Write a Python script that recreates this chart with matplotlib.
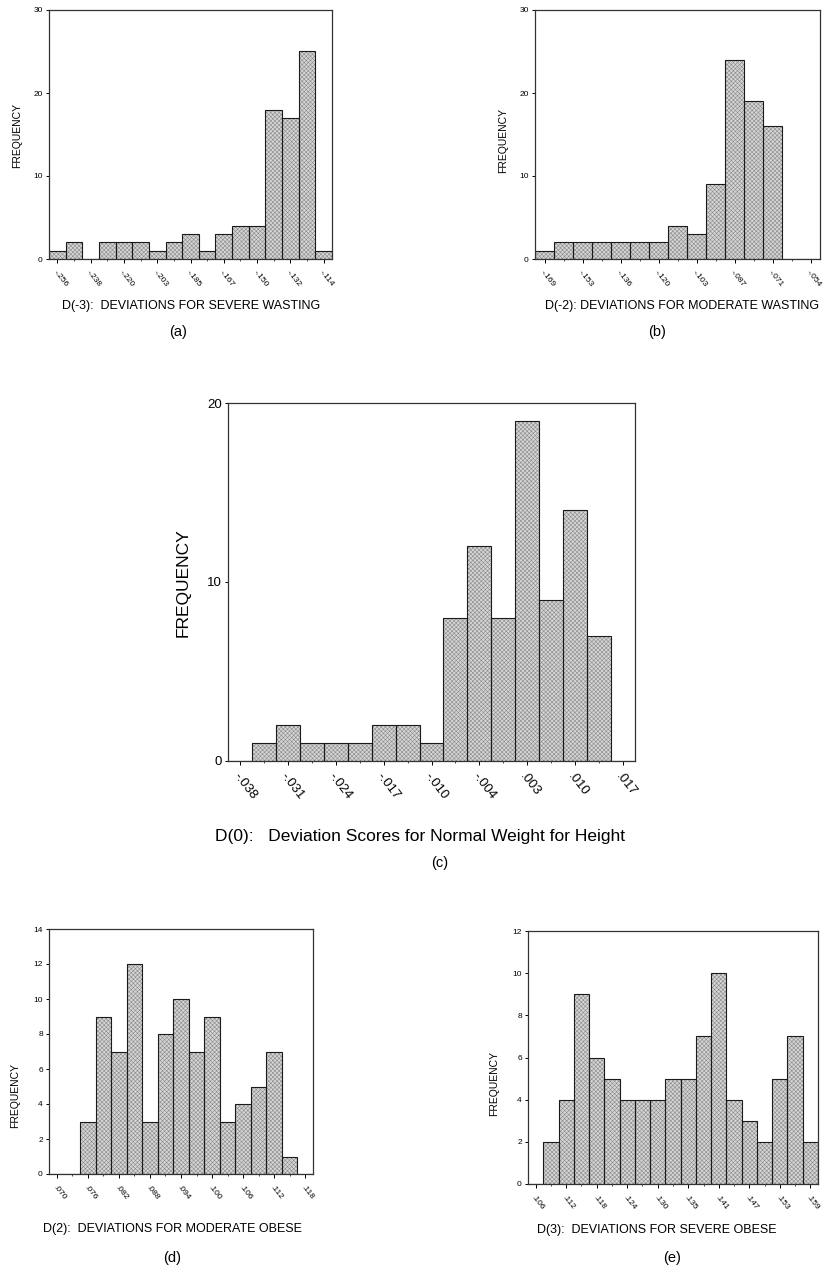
import matplotlib.pyplot as plt
import numpy as np

plt.rcParams['font.family'] = ['Liberation Sans', 'DejaVu Sans']
plt.rcParams['hatch.linewidth'] = 0.4

# (a) D(-3): severe wasting
counts_a = [1, 2, 0, 2, 2, 2, 1, 2, 3, 1, 3, 4, 4, 18, 17, 25, 1]
ticks_a = ['-.256', '-.238', '-.220', '-.203', '-.185', '-.167', '-.150', '-.132', '-.114']

# (b) D(-2): moderate wasting
counts_b = [1, 2, 2, 2, 2, 2, 2, 4, 3, 9, 24, 19, 16, 0, 0]
ticks_b = ['-.169', '-.153', '-.136', '-.120', '-.103', '-.087', '-.071', '-.054']

# (c) D(0): normal weight for height
counts_c = [0, 1, 2, 1, 1, 1, 2, 2, 1, 8, 12, 8, 19, 9, 14, 7, 0]
ticks_c = ['-.038', '-.031', '-.024', '-.017', '-.010', '-.004', '.003', '.010', '.017']

# (d) D(2): moderate obese
counts_d = [0, 0, 3, 9, 7, 12, 3, 8, 10, 7, 9, 3, 4, 5, 7, 1, 0]
ticks_d = ['.070', '.076', '.082', '.088', '.094', '.100', '.106', '.112', '.118']

# (e) D(3): severe obese
counts_e = [0, 2, 4, 9, 6, 5, 4, 4, 4, 5, 5, 7, 10, 4, 3, 2, 5, 7, 2]
ticks_e = ['.106', '.112', '.118', '.124', '.130', '.135', '.141', '.147', '.153', '.159']

W, H = 830, 1275
fig = plt.figure(figsize=(W / 100, H / 100), dpi=100)


def rect(x0, y0, x1, y1):
    return [x0 / W, 1 - y1 / H, (x1 - x0) / W, (y1 - y0) / H]


def ftext(x, y, s, **kw):
    fig.text(x / W, 1 - y / H, s, ha='center', va='center', **kw)


def panel(box, counts, labels, ymax, ystep, tick_fs, ylab_pos, ylab_fs):
    ax = fig.add_axes(rect(*box))
    x = np.arange(len(counts))
    ax.bar(x, counts, width=1.0, color='#d6d6d6', edgecolor='#8a8a8a',
           hatch='xxxxxxxx', linewidth=0)
    ax.bar(x, counts, width=1.0, fill=False, edgecolor='#1a1a1a', linewidth=0.8)
    ax.set_xlim(-0.5, len(counts) - 0.5)
    ax.set_ylim(0, ymax)
    ax.set_yticks(np.arange(0, ymax + 1, ystep))
    ax.set_xticks(x[::2])
    ax.set_xticks(x, minor=True)
    ax.set_xticklabels(labels, rotation=-52, ha='left', va='top',
                       rotation_mode='anchor', fontsize=tick_fs)
    ax.tick_params(axis='y', labelsize=tick_fs, length=2.5, width=0.7, pad=2)
    ax.tick_params(axis='x', which='major', length=3, width=0.7, pad=4)
    ax.tick_params(axis='x', which='minor', length=1.5, width=0.5)
    for s in ax.spines.values():
        s.set_color('#333333')
        s.set_linewidth(0.9)
    ftext(ylab_pos[0], ylab_pos[1], 'FREQUENCY', rotation=90, fontsize=ylab_fs)
    return ax


panel((49, 10, 332, 259), counts_a, ticks_a, 30, 10, 6, (17, 135), 7.5)
panel((535, 10, 820, 259), counts_b, ticks_b, 30, 10, 6, (503, 140), 7.5)
panel((228, 403, 635, 761), counts_c, ticks_c, 20, 10, 9.5, (183, 583), 12.5)
panel((49, 929, 313, 1174), counts_d, ticks_d, 14, 2, 6, (15, 1095), 7.5)
panel((528, 931, 818, 1184), counts_e, ticks_e, 12, 2, 6, (494, 1083), 7.5)

ftext(191, 306, 'D(-3):  DEVIATIONS FOR SEVERE WASTING', fontsize=9)
ftext(178, 332, '(a)', fontsize=10.5)
ftext(682, 306, 'D(-2): DEVIATIONS FOR MODERATE WASTING', fontsize=9)
ftext(657, 332, '(b)', fontsize=10.5)
ftext(420, 837, 'D(0):   Deviation Scores for Normal Weight for Height', fontsize=12.5)
ftext(440, 863, '(c)', fontsize=10.5)
ftext(172, 1229, 'D(2):  DEVIATIONS FOR MODERATE OBESE', fontsize=9)
ftext(172, 1258, '(d)', fontsize=10.5)
ftext(657, 1230, 'D(3):  DEVIATIONS FOR SEVERE OBESE', fontsize=9)
ftext(672, 1258, '(e)', fontsize=10.5)

fig.savefig('out.png', dpi=100)
